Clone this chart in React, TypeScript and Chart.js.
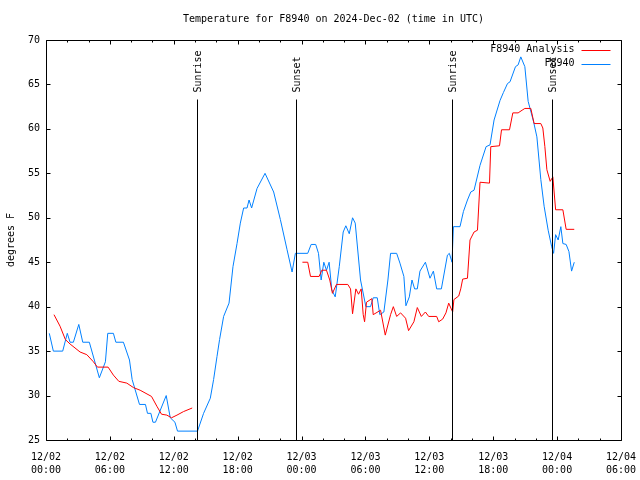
import React, { useEffect, useRef } from 'react';
import { Chart, registerables } from 'chart.js';

Chart.register(...registerables);

// Hours since 2024-12-02 00:00 UTC
const obsHours = [
  0.31, 0.69, 1.57, 2.0, 2.26, 2.57, 3.08, 3.45, 4.07, 5.01, 5.58, 5.8, 6.33, 6.56, 7.27, 7.84, 8.09, 8.78, 9.34, 9.53,
  9.85, 10.04, 10.28, 11.29, 11.67, 12.11, 12.35, 14.23, 14.8, 15.43, 15.74, 16.06, 16.3, 16.68, 17.19, 17.56, 17.94,
  18.25, 18.56, 18.88, 19.07, 19.31, 19.82, 20.57, 21.38, 22.01, 22.64, 23.11, 23.42, 24.58, 24.9, 25.33, 25.59, 25.84,
  26.09, 26.34, 26.59, 26.84, 27.16, 27.54, 27.91, 28.16, 28.48, 28.79, 29.04, 29.54, 30.04, 30.48, 30.73, 31.11, 31.35,
  31.73, 32.11, 32.36, 32.93, 33.24, 33.61, 33.8, 34.12, 34.37, 34.62, 34.87, 35.12, 35.63, 36.06, 36.38, 36.69, 37.13,
  37.7, 37.88, 38.13, 38.26, 38.88, 39.2, 39.58, 39.89, 40.2, 40.76, 41.33, 41.7, 42.08, 42.64, 42.96, 43.34, 43.58,
  44.09, 44.34, 44.59, 44.97, 45.28, 45.79, 46.1, 46.47, 46.78, 47.16, 47.48, 47.67, 47.86, 48.1, 48.35, 48.54, 48.85,
  49.11, 49.36, 49.61,
];
const obsTemps = [
  37, 35, 35, 37, 36, 36, 38, 36, 36, 32, 33.8, 37, 37, 36, 36, 34, 31.8, 29, 29, 28,
  28, 27, 27, 30, 27.5, 27, 26, 26, 28, 29.7, 31.8, 34.4, 36.3, 38.9, 40.4, 44.5, 47.1,
  49.4, 51.1, 51.1, 52, 51.1, 53.3, 55, 52.9, 49.8, 46.4, 43.9, 46, 46, 47, 47, 46, 43,
  45, 44.1, 45, 41.9, 41.1, 44.5, 48.4, 49.1, 48.2, 50, 49.4, 43, 40, 40, 41, 41, 39.1,
  39.4, 43, 46, 46, 44.9, 43.4, 40.1, 41.1, 43, 42, 42, 44, 45, 43.2, 44, 42, 42,
  45.8, 46, 45, 49, 49, 50.7, 52, 52.9, 53.1, 55.9, 58, 58.2, 61, 63.2, 64.1, 65.1, 65.3,
  67, 67.2, 68.1, 67, 63.1, 60.8, 59.1, 54.3, 51.3, 48.6, 46.8, 46, 48.1, 47.5, 49, 47.1, 47,
  46.2, 44, 45,
];

const anaHours = [
  0.75, 1.32, 1.82, 2.26, 3.2, 3.83, 4.45, 4.83, 5.83, 6.33, 6.84, 7.59, 8.21, 8.84, 9.91, 10.41, 10.85, 11.35, 11.79,
  12.3, 12.92, 13.73, 19.0, 24.08, 24.58, 24.84, 25.65, 25.9, 26.34, 26.65, 26.9, 27.28, 28.34, 28.6, 28.79, 29.1, 29.35,
  29.6, 29.79, 29.92, 30.1, 30.6, 30.73, 31.42, 31.86, 32.36, 32.62, 32.93, 33.3, 33.77, 34.05, 34.55, 34.87, 35.25,
  35.63, 35.94, 36.69, 36.88, 37.25, 37.56, 37.82, 38.19, 38.31, 38.76, 38.95, 39.13, 39.58, 39.82, 40.2, 40.52, 40.76,
  41.65, 41.77, 42.59, 42.78, 43.53, 43.84, 44.34, 44.71, 44.97, 45.53, 45.84, 46.47, 46.66, 46.85, 47.04, 47.35, 47.6,
  47.86, 48.54, 48.85, 49.61,
];
const anaTemps = [
  39.1, 37.8, 36.3, 35.8, 34.9, 34.6, 33.8, 33.2, 33.2, 32.3, 31.6, 31.4, 30.9, 30.6, 29.9, 28.8, 27.9, 27.8, 27.5,
  27.8, 28.2, 28.6, null, 45, 45, 43.4, 43.4, 44.1, 44.1, 43, 41.5, 42.5, 42.5, 42, 39.2, 42, 41.4,
  42, 39.1, 38.3, 40.5, 40.9, 39.1, 39.6, 36.8, 39.1, 40, 38.9, 39.3, 38.7, 37.3, 38.3, 39.9, 38.9,
  39.4, 38.9, 38.9, 38.3, 38.6, 39.3, 40.4, 39.4, 40.8, 41.2, 42, 43.1, 43.2, 47.5, 48.4, 48.6, 54,
  53.9, 58, 58.1, 59.9, 59.9, 61.8, 61.8, 62.1, 62.3, 62.3, 60.6, 60.6, 60.1, 58, 55.4, 54.1, 54.6,
  50.9, 50.9, 48.7, 48.7,
];

const sunHours = [14.18, 23.47, 38.12, 47.51];
const sunLabels = ['Sunrise', 'Sunset', 'Sunrise', 'Sunset'];

const xTickDates = ['12/02', '12/02', '12/02', '12/02', '12/03', '12/03', '12/03', '12/03', '12/04', '12/04'];
const xTickTimes = ['00:00', '06:00', '12:00', '18:00', '00:00', '06:00', '12:00', '18:00', '00:00', '06:00'];

const seriesNames = ['F8940 Analysis', 'F8940'];
const seriesColors = ['#ff0000', '#0080ff'];
const titleText = 'Temperature for F8940 on 2024-Dec-02 (time in UTC)';
const yTitle = 'degrees F';

const FONT = '"DejaVu Sans Mono", monospace';

const framePlugin = {
  id: 'gnuFrame',
  afterDraw(chart: any) {
    const ctx = chart.ctx as CanvasRenderingContext2D;
    const ca = chart.chartArea;
    const xs = chart.scales.x;
    const ys = chart.scales.y;
    const L = Math.round(ca.left) + 0.5;
    const R = Math.round(ca.right) + 0.5;
    const T = Math.round(ca.top) + 0.5;
    const B = Math.round(ca.bottom) + 0.5;
    ctx.save();
    ctx.strokeStyle = '#000';
    ctx.lineWidth = 1;
    ctx.beginPath();
    ctx.rect(L, T, R - L, B - T);
    for (let h = 0; h <= 54; h += 2) {
      const px = Math.round(xs.getPixelForValue(h)) + 0.5;
      const len = h % 6 === 0 ? 4 : 2;
      ctx.moveTo(px, B);
      ctx.lineTo(px, B - len);
      ctx.moveTo(px, T);
      ctx.lineTo(px, T + len);
    }
    for (let v = 25; v <= 70; v += 5) {
      const py = Math.round(ys.getPixelForValue(v)) + 0.5;
      ctx.moveTo(L, py);
      ctx.lineTo(L + 4, py);
      ctx.moveTo(R, py);
      ctx.lineTo(R - 4, py);
    }
    ctx.stroke();

    ctx.font = '10px ' + FONT;
    ctx.fillStyle = '#000';

    ctx.textAlign = 'center';
    ctx.textBaseline = 'middle';
    ctx.fillText(titleText, (ca.left + ca.right) / 2, T - 21);

    sunHours.forEach((h, i) => {
      const px = Math.round(xs.getPixelForValue(h)) + 0.5;
      ctx.beginPath();
      ctx.moveTo(px, T + 59);
      ctx.lineTo(px, B);
      ctx.stroke();
      ctx.save();
      ctx.translate(px + 1, T + 52);
      ctx.rotate(-Math.PI / 2);
      ctx.textAlign = 'left';
      ctx.textBaseline = 'middle';
      ctx.fillText(sunLabels[i], 0, 0);
      ctx.restore();
    });

    ctx.textAlign = 'right';
    ctx.textBaseline = 'middle';
    seriesNames.forEach((name, i) => {
      const y = T + 9 + i * 14;
      ctx.fillStyle = '#000';
      ctx.fillText(name, R - 47, y);
      ctx.strokeStyle = seriesColors[i];
      ctx.beginPath();
      ctx.moveTo(R - 40, Math.round(y) + 0.5);
      ctx.lineTo(R - 11, Math.round(y) + 0.5);
      ctx.stroke();
    });
    ctx.restore();
  },
};

export default function App() {
  const ref = useRef<HTMLCanvasElement | null>(null);
  useEffect(() => {
    if (!ref.current) return;
    const chart = new Chart(ref.current, {
      type: 'line',
      data: {
        datasets: [
          {
            label: seriesNames[0],
            data: anaHours.map((h, i) => ({ x: h, y: anaTemps[i] })),
            borderColor: seriesColors[0],
            backgroundColor: seriesColors[0],
            borderWidth: 1,
            pointRadius: 0,
            tension: 0,
            spanGaps: false,
          },
          {
            label: seriesNames[1],
            data: obsHours.map((h, i) => ({ x: h, y: obsTemps[i] })),
            borderColor: seriesColors[1],
            backgroundColor: seriesColors[1],
            borderWidth: 1,
            pointRadius: 0,
            tension: 0,
          },
        ],
      },
      options: {
        animation: false,
        responsive: false,
        color: '#000',
        layout: { padding: { left: 0, right: 19, top: 40, bottom: 0 } },
        plugins: {
          legend: { display: false },
          tooltip: { enabled: false },
          title: { display: false },
        },
        scales: {
          x: {
            type: 'linear',
            min: 0,
            max: 54,
            grid: { display: false, drawTicks: false },
            border: { display: false },
            afterFit: (s: any) => {
              s.height = 40;
              s.paddingLeft = 0;
              s.paddingRight = 0;
            },
            ticks: {
              stepSize: 6,
              autoSkip: false,
              maxRotation: 0,
              minRotation: 0,
              padding: 11,
              color: '#000',
              font: { family: FONT, size: 10, lineHeight: 1.3 },
              callback: (v: any) => {
                const i = Math.round(Number(v) / 6);
                return [xTickDates[i], xTickTimes[i]];
              },
            },
          },
          y: {
            type: 'linear',
            min: 25,
            max: 70,
            grid: { display: false, drawTicks: false },
            border: { display: false },
            afterFit: (s: any) => {
              s.width = 46;
              s.paddingTop = 0;
              s.paddingBottom = 0;
            },
            title: {
              display: true,
              text: yTitle,
              color: '#000',
              font: { family: FONT, size: 10, lineHeight: 1.2 },
              padding: { top: 5, bottom: 0 },
            },
            ticks: {
              stepSize: 5,
              padding: 6,
              color: '#000',
              font: { family: FONT, size: 10 },
            },
          },
        },
      },
      plugins: [framePlugin],
    });
    return () => chart.destroy();
  }, []);
  return (
    <div style={{ position: 'fixed', left: 0, top: 0, width: 640, height: 480, background: '#fff' }}>
      <canvas ref={ref} width={640} height={480} style={{ display: 'block', width: 640, height: 480 }} />
    </div>
  );
}
